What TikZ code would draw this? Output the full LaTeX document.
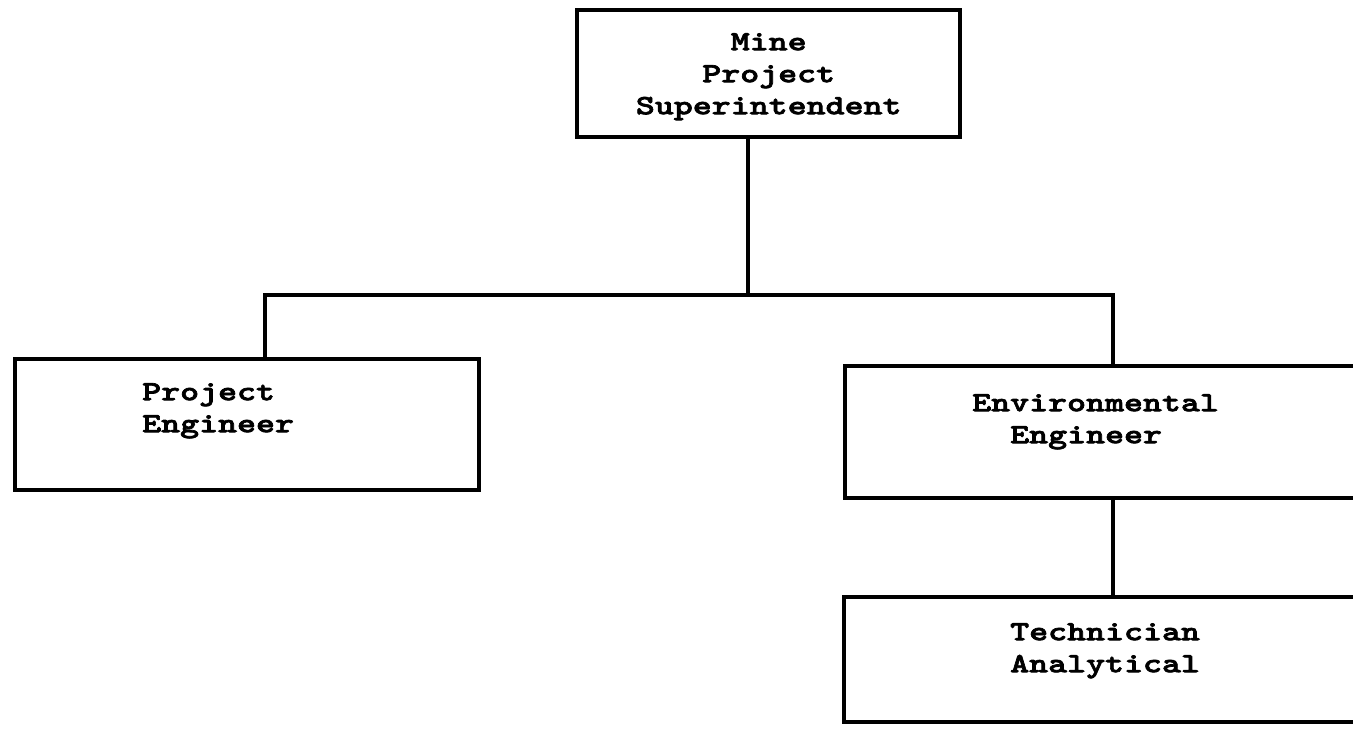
\documentclass[tikz,border=0pt]{standalone}
\usepackage{fontspec}
\newfontfamily\chartfont[Extension=.otf, FakeStretch=1.3, FakeBold=2.5]{lmmonolt10-bold}
\begin{document}
\begin{tikzpicture}[x=0.5pt,y=0.5pt,yscale=-1,xscale=1,
  box/.style={draw, line width=2.2pt, inner ysep=0pt, anchor=north west,
    font=\chartfont\fontsize{13.9pt}{16pt}\selectfont},
  link/.style={line width=2.1pt}]
\useasboundingbox (0,0) rectangle (1353,728);
\clip (0,0) rectangle (1353,728);

%Box: superintendent
\node [box, inner xsep=0pt, text width=191.5pt, align=center, text height=20pt, text depth=43.5pt] (supt) at (575,8) {Mine\\Project\\Superintendent};
%Box: project engineer
\node [box, inner xsep=63.5pt, text width=105pt, align=left, text height=20.5pt, text depth=45pt] (proj) at (13,357) {Project\\Engineer};
%Box: environmental engineer
\node [box, inner xsep=63.5pt, text width=141.5pt, align=left, text height=22.5pt, text depth=43.5pt] (env) at (843,364) {Environmental\\\hspace*{19pt}Engineer};
%Box: technician
\node [box, inner xsep=83pt, text width=103pt, align=left, text height=21.5pt, text depth=41pt] (tech) at (842,595) {Technician\\Analytical};

%Lines
\coordinate (busL) at (265,295);
\coordinate (busM) at (748,295);
\coordinate (busR) at (1113,295);
\draw [link] (supt.south -| busM) -- (busM);
\draw [link] (busL |- proj.north) -- (busL) -- (busR) -- (busR |- env.north);
\draw [link] (env.south -| busR) -- (tech.north -| busR);

\end{tikzpicture}
\end{document}
